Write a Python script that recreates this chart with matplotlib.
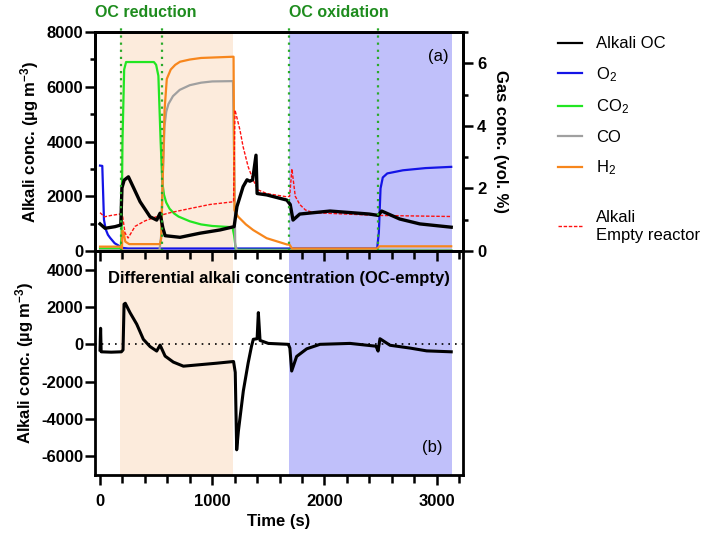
import matplotlib
matplotlib.use("Agg")
import matplotlib.pyplot as plt
from matplotlib.lines import Line2D
from matplotlib.ticker import MultipleLocator

plt.rcParams['font.family'] = ['Liberation Sans', 'DejaVu Sans']
plt.rcParams['mathtext.fontset'] = 'custom'
plt.rcParams['mathtext.rm'] = 'Liberation Sans'
plt.rcParams['mathtext.it'] = 'Liberation Sans:italic'
plt.rcParams['mathtext.bf'] = 'Liberation Sans:bold'
plt.rcParams['axes.unicode_minus'] = False

# gas concentrations (vol. %) against time (s)
t_o2 = [0, 20, 35, 50, 70, 90, 130, 200, 250, 1200, 2470, 2485, 2500, 2520, 2560, 2700, 2900, 3130]
o2 = [2.73, 2.72, 1.0, 0.7, 0.52, 0.42, 0.25, 0.1, 0.08, 0.08, 0.08, 0.6, 2.0, 2.35, 2.48, 2.58, 2.65, 2.69]

t_co2 = [0, 185, 192, 200, 215, 232, 480, 500, 520, 540, 555, 570, 590, 620, 660, 700, 800, 900, 1000,
         1180, 1195, 1210, 3130]
co2 = [0.08, 0.08, 0.5, 3.5, 5.8, 6.04, 6.04, 5.95, 5.6, 3.5, 2.2, 1.8, 1.55, 1.35, 1.2, 1.1, 0.95, 0.85,
       0.8, 0.76, 0.5, 0.04, 0.03]

t_co = [0, 530, 545, 560, 575, 590, 610, 650, 710, 800, 900, 1000, 1185, 1195, 1205, 1220, 3130]
co = [0.02, 0.03, 0.5, 2.5, 4.0, 4.45, 4.7, 4.95, 5.15, 5.3, 5.38, 5.42, 5.43, 3.0, 0.2, 0.02, 0.02]

t_h2 = [0, 185, 195, 200, 210, 225, 260, 535, 545, 560, 575, 595, 630, 670, 713, 800, 900, 1190, 1198,
        1230, 1300, 1365, 1485, 1665, 1690, 1710, 2470, 2490, 3130]
h2 = [0.14, 0.14, 0.05, 0.65, 0.6, 0.3, 0.22, 0.22, 0.4, 2.5, 4.5, 5.5, 5.8, 5.95, 6.05, 6.12, 6.17, 6.21,
      1.3, 1.1, 0.85, 0.67, 0.41, 0.21, 0.2, 0.08, 0.08, 0.15, 0.15]

# alkali concentration (ug m-3), chamber with OC and empty reactor
t_oc = [0, 45, 134, 185, 195, 215, 253, 300, 357, 446, 505, 535, 560, 580, 713, 890, 1070, 1195,
        1220, 1275, 1310, 1335, 1360, 1390, 1400, 1485, 1665, 1695, 1720, 1780, 2050, 2400, 2480,
        2510, 2670, 2850, 3130]
alk_oc = [990, 830, 890, 950, 2300, 2590, 2710, 2300, 1800, 1250, 1130, 1380, 840, 560, 500, 650, 770, 890,
          1620, 2350, 2600, 2550, 2600, 3500, 2100, 2050, 1860, 1700, 1130, 1350, 1460, 1350, 1300,
          1460, 1170, 990, 870]

t_empty = [0, 40, 100, 180, 200, 223, 250, 312, 400, 535, 625, 800, 980, 1190, 1203, 1247, 1275, 1320,
           1365, 1410, 1485, 1665, 1690, 1710, 1740, 1780, 1830, 1900, 2480, 3130]
alk_empty = [1400, 1250, 1300, 1350, 1300, 660, 475, 900, 1100, 1300, 1400, 1550, 1700, 1800, 5150, 4420,
             3810, 3080, 2590, 2230, 2100, 1980, 2000, 3000, 2000, 1700, 1500, 1400, 1300, 1260]

# differential alkali concentration (OC - empty)
t_diff = [0, 5, 10, 100, 190, 205, 214, 225, 267, 327, 386, 446, 505, 535, 580, 653, 743, 891, 1040,
          1190, 1205, 1218, 1233, 1277, 1320, 1350, 1366, 1400, 1411, 1426, 1500, 1678, 1692, 1708,
          1752, 1842, 1960, 2228, 2460, 2478, 2495, 2585, 2763, 2911, 3130]
diff = [-300, 860, -400, -420, -400, -300, 2150, 2200, 1700, 1080, 270, -120, -360, -40, -630, -950, -1170,
        -1090, -1010, -920, -1500, -5650, -4650, -2500, -1000, -100, 270, 300, 1700, 210, 50, 0, -200,
        -1430, -650, -240, 0, 50, -100, -360, 300, -50, -200, -350, -400]

reduction = (180, 1185)
oxidation = (1680, 3140)
switch_times = [190, 555, 1680, 2480]

fig = plt.figure(figsize=(7.11, 5.36), dpi=100)
ax_b = fig.add_axes([0.1336, 0.1138, 0.5176, 0.4179])
ax_a = fig.add_axes([0.1336, 0.5317, 0.5176, 0.4086])
ax_g = ax_a.twinx()
ax_a.set_zorder(ax_g.get_zorder() + 1)
ax_a.patch.set_visible(False)

peach = '#FCEBDC'
lilac = '#C0C0FA'
green_dot = '#2AAA2A'

# (a) gas concentrations on the right axis, alkali on the left
for ax in (ax_g, ax_b):
    ax.axvspan(*reduction, color=peach, lw=0, zorder=0)
    ax.axvspan(*oxidation, color=lilac, lw=0, zorder=0)

ax_g.plot(t_o2, o2, color='#1414E6', lw=1.6)
ax_g.plot(t_co2, co2, color='#22E622', lw=1.6)
ax_g.plot(t_co, co, color='#A0A0A0', lw=1.6)
ax_g.plot(t_h2, h2, color='#F7861C', lw=1.6)

ax_a.plot(t_empty, alk_empty, color='#FF1010', lw=1.0, ls=(0, (2.5, 1.2)))
ax_a.plot(t_oc, alk_oc, color='black', lw=2.4)

for t in switch_times:
    ax_a.axvline(t, ymin=0, ymax=1.02, color=green_dot, ls=(0, (1, 2.2)), lw=1.6, clip_on=False)

ax_a.text(-45, 8000 * 1.087, 'OC reduction', color='#1E8C1E', fontsize=11.5, fontweight='bold',
          ha='left', va='center')
ax_a.text(1680, 8000 * 1.087, 'OC oxidation', color='#1E8C1E', fontsize=11.5, fontweight='bold',
          ha='left', va='center')
ax_a.text(0.933, 0.888, '(a)', transform=ax_a.transAxes, fontsize=12, ha='center', va='center')

ax_a.set_xlim(-45, 3235)
ax_a.set_ylim(0, 8000)
ax_g.set_ylim(0, 7)
ax_a.yaxis.set_major_locator(MultipleLocator(2000))
ax_a.yaxis.set_minor_locator(MultipleLocator(1000))
ax_g.yaxis.set_major_locator(MultipleLocator(2))
ax_g.yaxis.set_minor_locator(MultipleLocator(1))
ax_a.tick_params(axis='x', labelbottom=False)
ax_a.set_ylabel('Alkali conc. (µg m$^{\\mathbf{-3}}$)', fontsize=12, fontweight='bold', labelpad=4)
ax_g.set_ylabel('Gas conc. (vol. %)', fontsize=12, fontweight='bold', rotation=270, labelpad=16)

# (b) differential concentration
ax_b.axhline(0, color='black', ls=(0, (1, 3)), lw=1.2, zorder=1)
ax_b.plot(t_diff, diff, color='black', lw=2.2, zorder=2)
ax_b.text(0.501, 0.879, 'Differential alkali concentration (OC-empty)', transform=ax_b.transAxes,
          fontsize=12, fontweight='bold', ha='center', va='center')
ax_b.text(0.916, 0.125, '(b)', transform=ax_b.transAxes, fontsize=12, ha='center', va='center')
ax_b.set_xlim(-45, 3235)
ax_b.set_ylim(-7000, 5000)
ax_b.yaxis.set_major_locator(MultipleLocator(2000))
ax_b.spines['top'].set_visible(False)
ax_b.set_ylabel('Alkali conc. (µg m$^{\\mathbf{-3}}$)', fontsize=12, fontweight='bold', labelpad=4)
ax_b.set_xlabel('Time (s)', fontsize=12, fontweight='bold', labelpad=4)

for ax in (ax_a, ax_g, ax_b):
    for s in ax.spines.values():
        s.set_linewidth(2.0)
    ax.xaxis.set_major_locator(MultipleLocator(1000))
    ax.xaxis.set_minor_locator(MultipleLocator(200))
    ax.tick_params(axis='both', which='both', direction='out', width=1.8, labelsize=12)
    ax.tick_params(axis='y', which='major', length=7, pad=1.5)
    ax.tick_params(axis='y', which='minor', length=3.5)
    ax.tick_params(axis='x', which='major', length=7.5, pad=6)
    ax.tick_params(axis='x', which='minor', length=5.5)
    for lab in ax.get_xticklabels() + ax.get_yticklabels():
        lab.set_fontweight('bold')
ax_g.tick_params(axis='y', which='major', pad=3)

# legend down the right-hand side
handles = [Line2D([], [], color='black', lw=1.6),
           Line2D([], [], color='#1414E6', lw=1.6),
           Line2D([], [], color='#22E622', lw=1.6),
           Line2D([], [], color='#A0A0A0', lw=1.6),
           Line2D([], [], color='#F7861C', lw=1.6)]
labels = ['Alkali OC', 'O$_2$', 'CO$_2$', 'CO', 'H$_2$']
fig.legend(handles, labels, loc='upper left', bbox_to_anchor=(0.785, 0.932), frameon=False,
           fontsize=12, handlelength=1.45, handletextpad=0.8, labelspacing=0.82,
           borderpad=0, borderaxespad=0)
fig.legend([Line2D([], [], color='#FF1010', lw=1.0, ls=(0, (2.5, 1.2)))], ['Alkali\nEmpty reactor'],
           loc='upper left', bbox_to_anchor=(0.785, 0.608), frameon=False, fontsize=12,
           handlelength=1.45, handletextpad=0.8, borderpad=0, borderaxespad=0)

fig.savefig('out.png', dpi=100)
